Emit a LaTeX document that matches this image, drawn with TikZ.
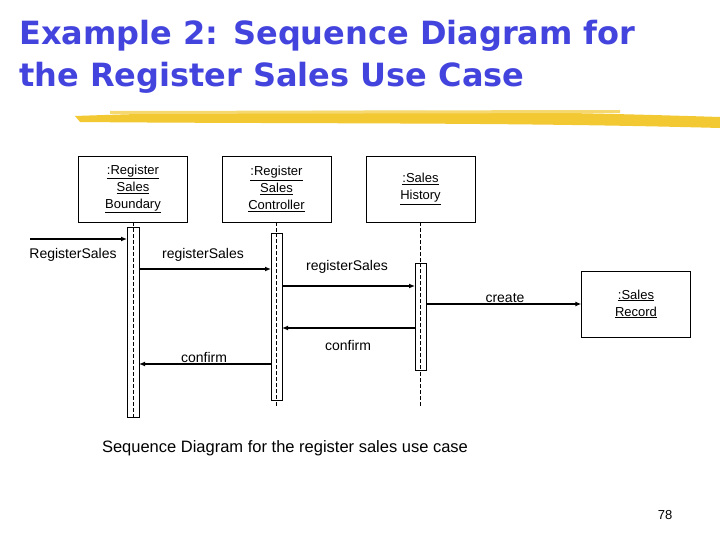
\documentclass[tikz,border=0pt]{standalone}
\usepackage{fontspec}
\setmainfont{Liberation Sans}
\newfontfamily\ttlfont{DejaVu Sans}
\usetikzlibrary{arrows.meta}
\definecolor{ttl}{HTML}{4343DD}
\definecolor{brush}{HTML}{F2C833}
\begin{document}
\begin{tikzpicture}[x=1pt,y=-1pt,
  obj/.style={draw,thin,minimum width=109pt,minimum height=66pt,align=center,font=\fontsize{13}{17}\selectfont,inner sep=1pt},
  bar/.style={draw,thin,fill=white},
  life/.style={dash pattern=on 4pt off 2pt,thin},
  msg/.style={-{Latex[length=6pt,width=5pt]},line width=1.2pt},
  lbl/.style={font=\fontsize{14}{16}\selectfont}]
\useasboundingbox (0,0) rectangle (720,540);
\node[anchor=north west,align=left,text=ttl,font=\ttlfont\fontsize{32}{42}\selectfont\bfseries,inner sep=0] (title) at (19,20) {Example 2: Sequence Diagram for\\the Register Sales Use Case};
\fill[brush] (75,116) .. controls (300,108) and (500,110) .. (720,117) -- (720,128) .. controls (500,122) and (300,124) .. (80,122) -- cycle;
\fill[brush!70!white] (110,111) -- (620,110) -- (620,113) -- (110,114) -- cycle;
\node[obj] (b) at (133,189) {\underline{:Register}\\\underline{Sales}\\\underline{Boundary}};
\node[obj] (c) at (276.5,189) {\underline{:Register}\\\underline{Sales}\\\underline{Controller}};
\node[obj] (h) at (420.5,189) {\underline{:Sales}\\\underline{History}};
\node[obj] (r) at (636,304) {\underline{:Sales}\\\underline{Record}};
\coordinate (bE) at (133,417); \coordinate (cE) at (276.5,406); \coordinate (hE) at (420.5,406);
\draw[life] (c.south) -- (cE); \draw[life] (h.south) -- (hE);
\draw[bar] (127,227) rectangle (139,417);
\draw[bar] (271,233) rectangle (282,400);
\draw[bar] (415,263) rectangle (426,370);
\draw[life] (b.south) -- (bE);
\draw[life] (276.5,233) -- (276.5,400);
\draw[life] (420.5,263) -- (420.5,370);
\coordinate (in) at (30,239);
\draw[msg] (in) -- (127,239);
\node[lbl] (l1) at (73,255) {RegisterSales};
\draw[msg] (139,269) -- (271,269);
\node[lbl] (l2) at (203,255) {registerSales};
\draw[msg] (282,286) -- (415,286);
\node[lbl] (l3) at (347,267) {registerSales};
\draw[msg] (426,304) -- (r.west);
\node[lbl] (l4) at (505,298) {create};
\draw[msg] (415,328) -- (282,328);
\node[lbl] (l5) at (348,345) {confirm};
\draw[msg] (271,364) -- (139,364);
\node[lbl] (l6) at (204,357) {confirm};
\node[font=\fontsize{16.5}{19}\selectfont] (cap) at (285,448) {Sequence Diagram for the register sales use case};
\node[font=\fontsize{13}{15}\selectfont] (pg) at (665,515) {78};
\end{tikzpicture}
\end{document}
